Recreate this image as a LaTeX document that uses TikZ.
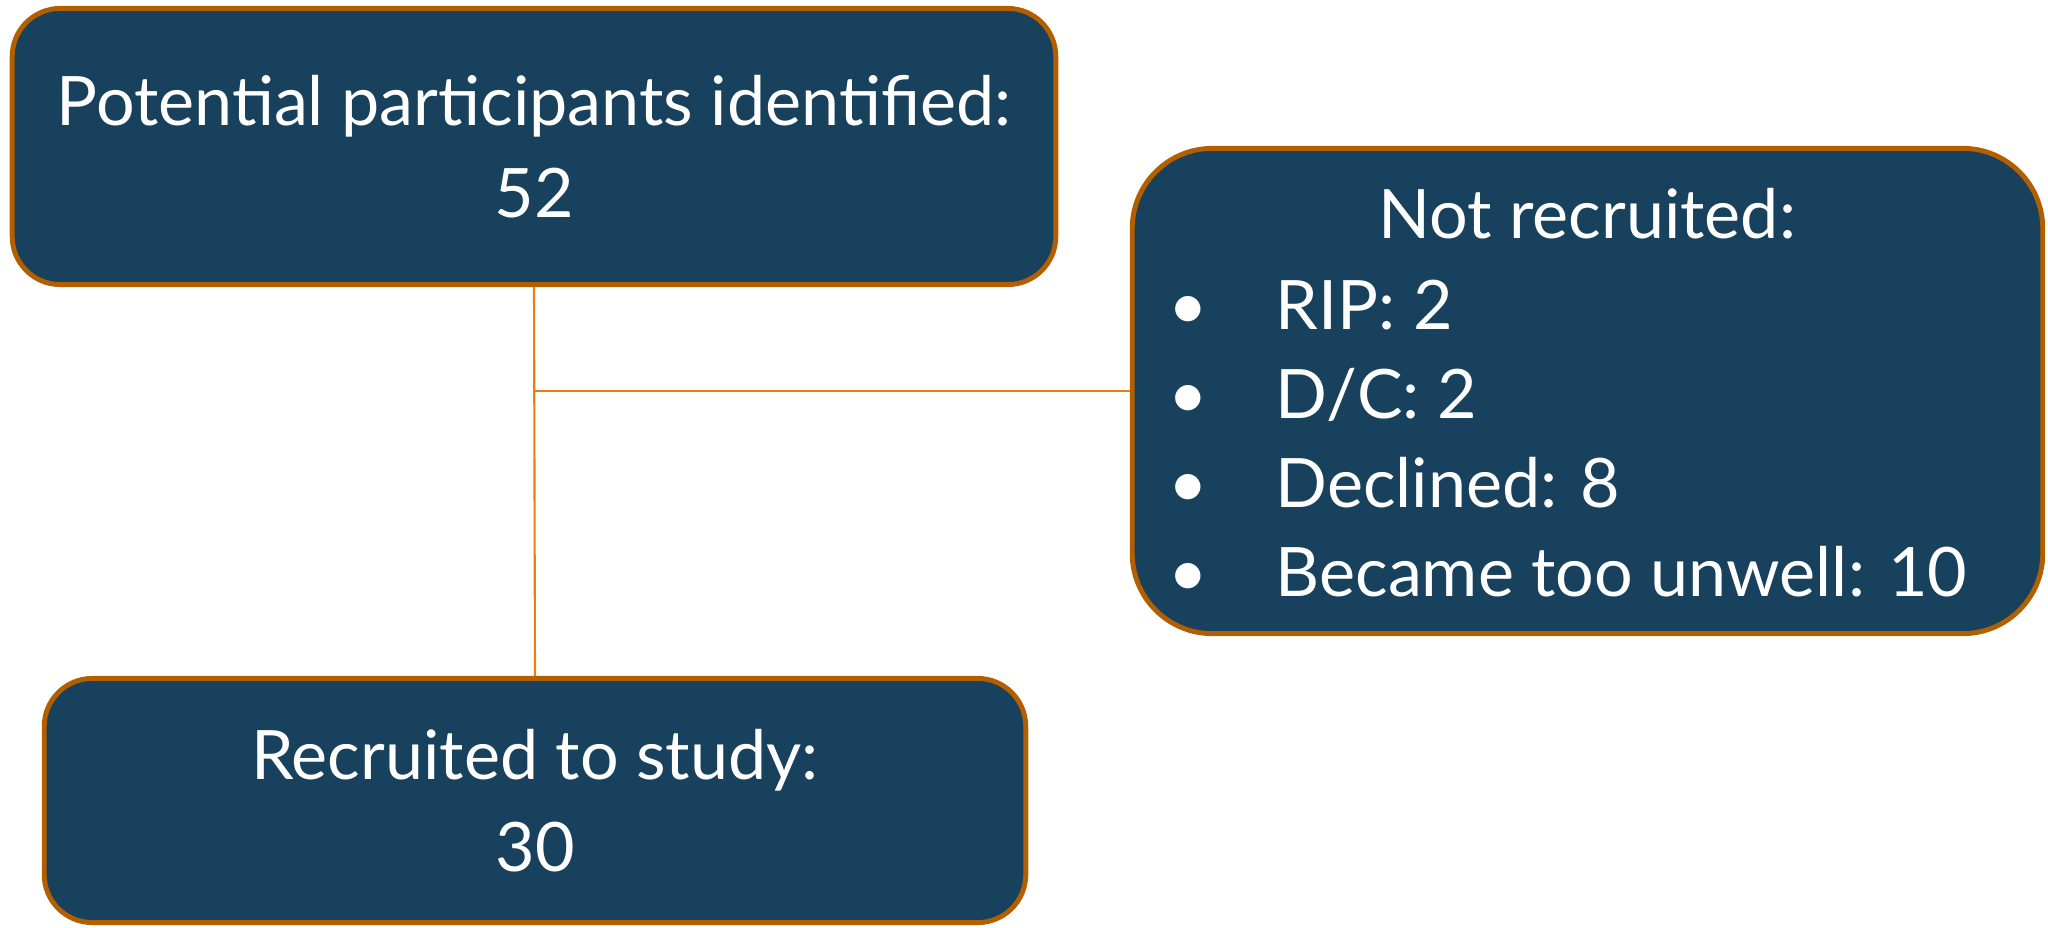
\documentclass[tikz,border=0pt]{standalone}
\usepackage{fontspec}
\setmainfont{Lato}
\usetikzlibrary{positioning}
\definecolor{frNavy}{HTML}{17415C}
\definecolor{frEdge}{HTML}{B35F00}
\definecolor{frLink}{HTML}{ED7D0F}
\tikzset{
  % Dark flow box with orange rim
  flowbox/.style={rectangle,rounded corners=0.48cm,inner sep=0pt,
    align=center,draw=frEdge,line width=1.4pt,fill=frNavy,
    text=white,font=\fontsize{19.4}{26.2}\selectfont},
  % Plain white text inside a box
  boxtxt/.style={inner sep=0pt,text=white,font=\fontsize{19.4}{26.2}\selectfont},
  % Thin connector
  link/.style={draw=frLink,line width=0.6pt},
}
\begin{document}
\begin{tikzpicture}[x=0.01cm,y=-0.01cm]
  \useasboundingbox (0,0) rectangle (2048,927);

  % Boxes
  \node[flowbox,minimum width=10.43cm,minimum height=2.76cm] (ident) at (534,146.5)
    {Potential participants identified:\\52};
  \node[flowbox,rounded corners=0.8cm,minimum width=9.10cm,minimum height=4.85cm] (notrec) at (1587.5,391) {};
  \node[flowbox,minimum width=9.81cm,minimum height=2.44cm] (recr) at (535,800.5)
    {Recruited to study:\\30};

  % Contents of the not-recruited box
  \node[boxtxt,anchor=base] (nrtitle) at (1587,238) {Not recruited:};
  \foreach \txt [count=\i] in {RIP: 2, D/C: 2, Declined: 8, Became too unwell: 10} {
    \node[boxtxt,anchor=base west] (item\i) at (1275,240+89*\i) {\txt};
    \node[boxtxt,anchor=base] (dot\i) at (1188,240+89*\i) {\textbullet};
  }

  % Connectors
  \coordinate (split) at (ident.south |- notrec.west);
  \draw[link] (ident.south) -- (recr.north);
  \draw[link] (split) -- (notrec.west);
\end{tikzpicture}
\end{document}
